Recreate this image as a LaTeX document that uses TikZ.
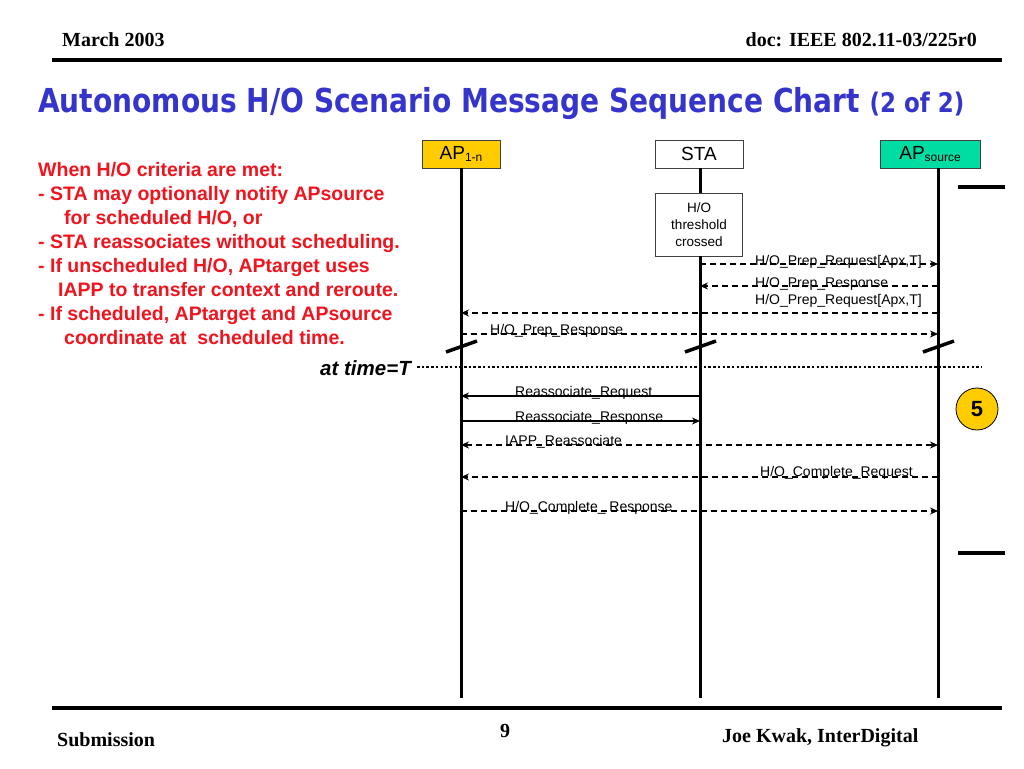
\documentclass[tikz,border=0pt]{standalone}
\usepackage{fontspec}
\setmainfont{Liberation Serif}
\setsansfont{Liberation Sans}
\newfontfamily\titlefont[FakeStretch=0.85]{DejaVu Sans}
\definecolor{mRed}{HTML}{F0141E}
\definecolor{mBlue}{HTML}{3535CC}
\definecolor{mGold}{HTML}{FFCC00}
\definecolor{mTeal}{HTML}{00DDA3}
\usetikzlibrary{arrows.meta, positioning}

\begin{document}
\begin{tikzpicture}[x=1pt, y=-1pt, >={Stealth[length=8pt, width=7pt]},
  head/.style={draw=black!75, thick, minimum height=28pt, inner sep=0pt,
               font=\sffamily\fontsize{19}{19}\selectfont},
  life/.style={line width=3pt},
  msg/.style={->, line width=1.2pt},
  dmsg/.style={msg, dash pattern=on 6pt off 4pt},
  lbl/.style={anchor=base west, inner sep=0pt, font=\sffamily\fontsize{14}{14}\selectfont},
  brk/.style={line width=3.5pt},
  bar/.style={line width=4pt},
  foot/.style={inner sep=0pt, font=\bfseries\fontsize{20}{20}\selectfont}]
  \fill[white] (0,0) rectangle (1024,768);
  \useasboundingbox (0,0) rectangle (1024,768);
  % header and footer
  \node[foot, anchor=base west] (date) at (62,47) {March 2003};
  \node[foot, anchor=base east] (doc) at (977,47) {doc: IEEE 802.11-03/225r0};
  \coordinate (hl) at (52,60); \coordinate (hr) at (1002,60);
  \draw[bar] (hl) -- (hr);
  \coordinate (fl) at (52,708); \coordinate (fr) at (1002,708);
  \draw[bar] (fl) -- (fr);
  \node[foot, anchor=base west] (sub) at (57,746) {Submission};
  \node[foot, anchor=base] (page) at (505,737) {9};
  \node[foot, anchor=base west] (auth) at (722,742) {Joe Kwak, InterDigital};
  \node[anchor=base west, inner sep=0pt, text=mBlue,
        font=\titlefont\bfseries\fontsize{33}{33}\selectfont] (title) at (38,112)
       {Autonomous H/O Scenario Message Sequence Chart {\fontsize{27}{27}\selectfont(2 of 2)}};
  \node[anchor=north west, inner sep=0pt, align=left, text=mRed,
        font=\sffamily\bfseries\fontsize{19.5}{24}\selectfont] (notes) at (38,162)
       {When H/O criteria are met:\\
        - STA may optionally notify APsource\\
        \hspace*{26pt}for scheduled H/O, or\\
        - STA reassociates without scheduling.\\
        - If unscheduled H/O, APtarget uses\\
        \hspace*{20pt}IAPP to transfer context and reroute.\\
        - If scheduled, APtarget and APsource\\
        \hspace*{26pt}coordinate at\ \ scheduled time.};
  % lifelines
  \node[head, fill=mGold, minimum width=78pt] (ap) at (461,154)
       {AP\raisebox{-2pt}{\fontsize{12}{12}\selectfont 1-n}};
  \node[head, fill=white, minimum width=88pt] (sta) at (699,154) {STA};
  \node[head, fill=mTeal, minimum width=100pt] (aps) at (930,154)
       {AP\raisebox{-2pt}{\fontsize{12}{12}\selectfont source}};
  \node[draw=black!75, thick, fill=white, minimum width=87pt, minimum height=63pt,
        align=center, inner sep=0pt, font=\sffamily\fontsize{13.5}{17}\selectfont]
       (thr) at (699,224.5) {H/O\\threshold\\crossed};
  \coordinate (apB) at (461,698);
  \coordinate (staB) at (700,698);
  \coordinate (apsB) at (938,698);
  \draw[life] (ap.south) -- (apB);
  \draw[life] (sta.south -| staB) -- (thr.north -| staB);
  \draw[life] (thr.south -| staB) -- (staB);
  \draw[life] (aps.south -| apsB) -- (apsB);
  % messages
  \draw[dmsg] (staB |- 0,264) -- (apsB |- 0,264);
  \node[lbl] (m1) at (755,265) {H/O\_Prep\_Request[Apx,T]};
  \draw[dmsg] (apsB |- 0,286) -- (staB |- 0,286);
  \node[lbl] (m2) at (755,287) {H/O\_Prep\_Response};
  \draw[dmsg] (apsB |- 0,313) -- (apB |- 0,313);
  \node[lbl] (m3) at (755,304) {H/O\_Prep\_Request[Apx,T]};
  \draw[dmsg] (apB |- 0,334) -- (apsB |- 0,334);
  \node[lbl] (m4) at (490,334) {H/O\_Prep\_Response};
  \foreach \x in {461,700,938} \draw[brk] (\x-15,352) -- (\x+16,341);
  \node[anchor=base east, inner sep=0pt,
        font=\sffamily\bfseries\itshape\fontsize{20.5}{20.5}\selectfont] (tm) at (411,375) {at time=T};
  \coordinate (tEnd) at (982,367);
  \draw[line width=2.5pt, dash pattern=on 2.5pt off 2.2pt] ([xshift=6pt]tm.east |- tEnd) -- (tEnd);
  \draw[msg] (staB |- 0,396) -- (apB |- 0,396);
  \node[lbl] (m5) at (515,396) {Reassociate\_Request};
  \draw[msg] (apB |- 0,421) -- (staB |- 0,421);
  \node[lbl] (m6) at (515,421) {Reassociate\_Response};
  \draw[dmsg, <->] (apB |- 0,445) -- (apsB |- 0,445);
  \node[lbl] (m7) at (505,445) {IAPP\_Reassociate};
  \draw[dmsg] (apsB |- 0,477) -- (apB |- 0,477);
  \node[lbl] (m8) at (760,476) {H/O\_Complete\_Request};
  \draw[dmsg] (apB |- 0,511) -- (apsB |- 0,511);
  \node[lbl] (m9) at (505,511) {H/O\_Complete\_ Response};
  \node[circle, draw, thick, fill=mGold, minimum size=42pt, inner sep=0pt,
        font=\sffamily\bfseries\fontsize{22}{22}\selectfont] (five) at (977,409) {5};
  \coordinate (b1) at (958,187); \coordinate (b2) at (1005,187);
  \draw[bar] (b1) -- (b2);
  \coordinate (b3) at (958,553); \coordinate (b4) at (1005,553);
  \draw[bar] (b3) -- (b4);
\end{tikzpicture}
\end{document}
